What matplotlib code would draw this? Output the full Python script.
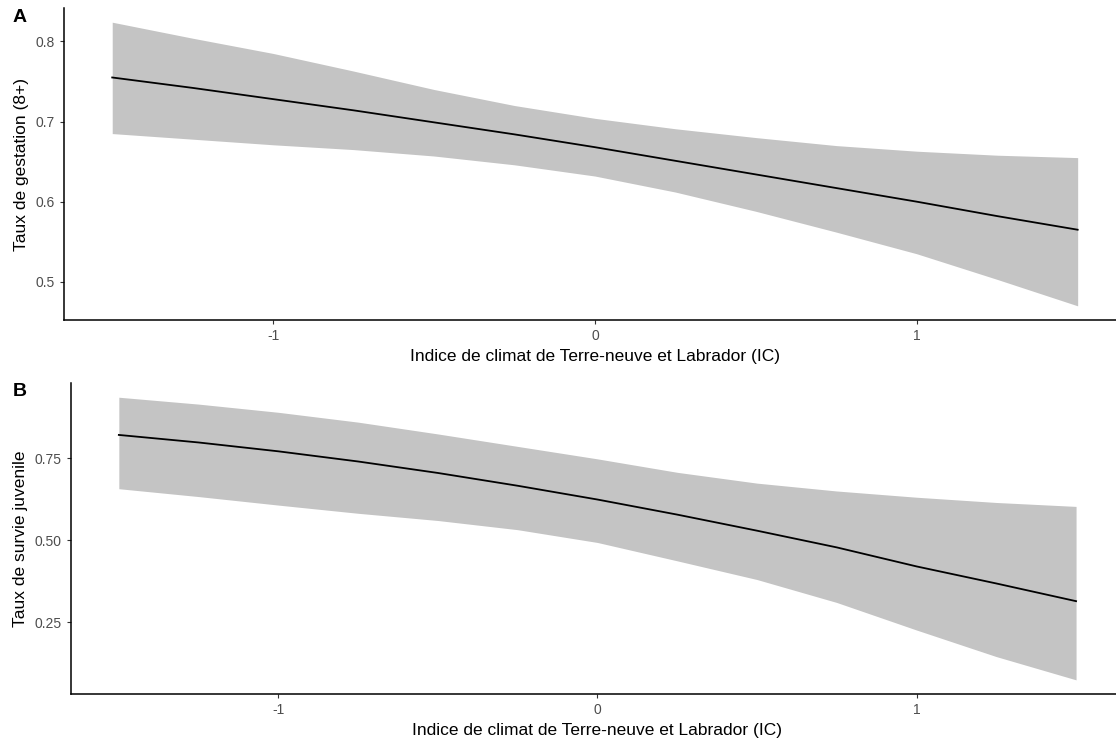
import numpy as np
import matplotlib
matplotlib.use("Agg")
import matplotlib.pyplot as plt

plt.rcParams['font.family'] = ['Liberation Sans', 'DejaVu Sans']

# climate index values where the fitted curves were read
ic = [-1.5, -1.25, -1.0, -0.75, -0.5, -0.25, 0.0, 0.25, 0.5, 0.75, 1.0, 1.25, 1.5]

# A: pregnancy rate (8+)
gest_fit = [0.755, 0.742, 0.728, 0.714, 0.699, 0.684, 0.668, 0.651, 0.634, 0.617, 0.600, 0.582, 0.565]
gest_upr = [0.824, 0.804, 0.785, 0.763, 0.740, 0.720, 0.704, 0.691, 0.680, 0.670, 0.663, 0.658, 0.655]
gest_lwr = [0.685, 0.678, 0.671, 0.665, 0.657, 0.646, 0.632, 0.612, 0.588, 0.562, 0.535, 0.503, 0.470]

# B: juvenile survival
surv_fit = [0.821, 0.798, 0.771, 0.740, 0.705, 0.666, 0.624, 0.578, 0.529, 0.478, 0.420, 0.368, 0.314]
surv_upr = [0.936, 0.915, 0.890, 0.860, 0.824, 0.786, 0.748, 0.707, 0.674, 0.650, 0.631, 0.615, 0.603]
surv_lwr = [0.657, 0.633, 0.607, 0.582, 0.560, 0.532, 0.493, 0.437, 0.380, 0.310, 0.226, 0.145, 0.074]

xticks = [-1, 0, 1]
xlab = "Indice de climat de Terre-neuve et Labrador (IC)"

fig = plt.figure(figsize=(11.16, 7.42), dpi=100)
# panels run a little past the right edge of the picture, as in the original
axA = fig.add_axes([0.0573, 0.5687, 0.9516, 0.4205])
axB = fig.add_axes([0.0636, 0.0647, 0.9435, 0.419])


def panel(ax, fit, lwr, upr, yticks, ylabels, ylabel):
    ax.fill_between(ic, lwr, upr, color='#c4c4c4', linewidth=0)
    ax.plot(ic, fit, color='black', linewidth=1.3)
    ax.margins(x=0.05, y=0.05)
    ax.set_xticks(xticks)
    ax.set_xticklabels(['-1', '0', '1'])
    ax.set_yticks(yticks)
    ax.set_yticklabels(ylabels)
    ax.tick_params(colors='#4d4d4d', labelsize=10, length=3, width=0.8)
    ax.tick_params(axis='both', color='#333333')
    for s in ['top', 'right']:
        ax.spines[s].set_visible(False)
    for s in ['left', 'bottom']:
        ax.spines[s].set_linewidth(1.1)
    ax.set_xlabel(xlab, fontsize=12.5, labelpad=4)
    ax.set_ylabel(ylabel, fontsize=12.5, labelpad=5)


panel(axA, gest_fit, gest_lwr, gest_upr, [0.5, 0.6, 0.7, 0.8],
      ['0.5', '0.6', '0.7', '0.8'], "Taux de gestation (8+)")
panel(axB, surv_fit, surv_lwr, surv_upr, [0.25, 0.5, 0.75],
      ['0.25', '0.50', '0.75'], "Taux de survie juvenile")

fig.text(0.011, 0.976, "A", fontsize=14, fontweight='bold', va='center')
fig.text(0.011, 0.472, "B", fontsize=14, fontweight='bold', va='center')

fig.savefig("out.png", dpi=100)
